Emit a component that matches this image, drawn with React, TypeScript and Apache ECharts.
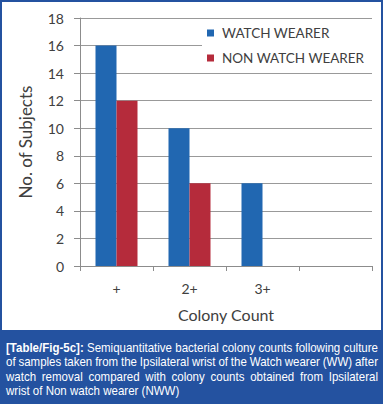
import React, { useEffect, useRef } from "react";
import * as echarts from "echarts";

const categories = ["+", "2+", "3+", ""];
const watchWearer: (number | null)[] = [16, 10, 6, null];
const nonWatchWearer: (number | null)[] = [12, 6, 0, null];
const seriesNames = ["WATCH WEARER", "NON WATCH WEARER"];
const yAxisTitle = "No. of Subjects";
const xAxisTitle = "Colony Count";
const captionLabel = "[Table/Fig-5c]:";
const captionLines = [
  "Semiquantitative bacterial colony counts following culture",
  "of samples taken from the Ipsilateral wrist of the Watch wearer (WW) after",
  "watch removal compared with colony counts obtained from Ipsilateral",
  "wrist of Non watch wearer (NWW)",
];

const FONT = 'Lato, "Open Sans", sans-serif';
const CAP_FONT_FAMILY = '"Liberation Sans", Arial, sans-serif';
const BLUE = "#2167b1";
const RED = "#b52b3b";
const FRAME = "#2452a0";

function buildCaption(): any[] {
  const canvas = document.createElement("canvas");
  const ctx = canvas.getContext("2d") as CanvasRenderingContext2D;
  const size = 12;
  const normal = `${size}px ${CAP_FONT_FAMILY}`;
  const bold = `bold ${size}px ${CAP_FONT_FAMILY}`;
  const measure = (t: string, f: string) => {
    ctx.font = f;
    return ctx.measureText(t).width;
  };
  const left = 6;
  const fullW = 372;
  const lines: { text: string; bold: boolean }[][] = captionLines.map((l, i) => {
    const words = l.split(" ").map((w) => ({ text: w, bold: false }));
    if (i === 0) words.unshift({ text: captionLabel, bold: true });
    return words;
  });
  const spaceW = measure(" ", normal);
  const widthOf = (w: { text: string; bold: boolean }) => measure(w.text, w.bold ? bold : normal);
  const line0 = lines[0];
  const natural0 = line0.reduce((a, w) => a + widthOf(w), 0) + spaceW * (line0.length - 1);
  const s = fullW / natural0;
  const ys = [347, 361.5, 376, 390.5];
  const els: any[] = [];
  lines.forEach((words, li) => {
    const widths = words.map((w) => widthOf(w) * s);
    const sum = widths.reduce((a, b) => a + b, 0);
    const justify = li < lines.length - 1;
    const gap = justify ? (fullW - sum) / (words.length - 1) : spaceW * s;
    let x = left;
    words.forEach((w, wi) => {
      els.push({
        type: "text",
        x,
        y: ys[li],
        scaleX: s,
        silent: true,
        z: 10,
        style: {
          text: w.text,
          fill: "#ffffff",
          font: w.bold ? bold : normal,
          align: "left",
          verticalAlign: "middle",
        },
      });
      x += widths[wi] + gap;
    });
  });
  return els;
}

export default function App() {
  const ref = useRef<HTMLDivElement>(null);
  useEffect(() => {
    if (!ref.current) return;
    const chart = echarts.init(ref.current, null, { renderer: "svg" });
    const option: any = {
      animation: false,
      backgroundColor: "#ffffff",
      textStyle: { fontFamily: FONT },
      grid: { left: 80, right: 11, top: 18, bottom: 138, containLabel: false },
      legend: {
        orient: "vertical",
        left: 202,
        top: 22,
        padding: [4, 8, 3, 5],
        backgroundColor: "#ffffff",
        itemWidth: 7,
        itemHeight: 7,
        itemGap: 11,
        icon: "rect",
        data: seriesNames,
        textStyle: { fontFamily: FONT, fontSize: 13.5, color: "#404040", padding: [0, 0, 0, 3] },
      },
      xAxis: {
        type: "category",
        data: categories,
        name: xAxisTitle,
        nameLocation: "middle",
        nameGap: 40,
        nameTextStyle: { fontFamily: FONT, fontSize: 16, color: "#404040" },
        axisLine: { show: true, lineStyle: { color: "#8c8c8c", width: 1 } },
        axisTick: { show: true, alignWithLabel: false, length: 5, lineStyle: { color: "#8c8c8c" } },
        axisLabel: { margin: 15, fontSize: 14, color: "#404040", fontFamily: FONT },
        splitLine: { show: false },
      },
      yAxis: {
        type: "value",
        min: 0,
        max: 18,
        interval: 2,
        name: yAxisTitle,
        nameLocation: "middle",
        nameRotate: 90,
        nameGap: 46,
        nameTextStyle: { fontFamily: FONT, fontSize: 17, color: "#404040" },
        axisLine: { show: true, lineStyle: { color: "#8c8c8c", width: 1 } },
        axisTick: { show: true, length: 6, lineStyle: { color: "#8c8c8c" } },
        axisLabel: { margin: 16, fontSize: 14, color: "#404040", fontFamily: FONT },
        splitLine: { show: true, lineStyle: { color: "#999999", width: 1 } },
      },
      series: [
        {
          name: seriesNames[0],
          type: "bar",
          data: watchWearer,
          barWidth: 21,
          barGap: "0%",
          itemStyle: { color: BLUE },
        },
        {
          name: seriesNames[1],
          type: "bar",
          data: nonWatchWearer,
          barWidth: 21,
          barGap: "0%",
          itemStyle: { color: RED },
        },
      ],
      graphic: [
        {
          type: "rect",
          silent: true,
          z: 5,
          shape: { x: 0, y: 330, width: 383, height: 74 },
          style: { fill: FRAME },
        },
        {
          type: "rect",
          silent: true,
          z: 6,
          shape: { x: 1, y: 1, width: 381, height: 402 },
          style: { fill: "none", stroke: FRAME, lineWidth: 2 },
        },
        ...buildCaption(),
      ],
    };
    chart.setOption(option);
    return () => chart.dispose();
  }, []);
  return (
    <div
      ref={ref}
      style={{ position: "absolute", left: 0, top: 0, width: 383, height: 404 }}
    />
  );
}
